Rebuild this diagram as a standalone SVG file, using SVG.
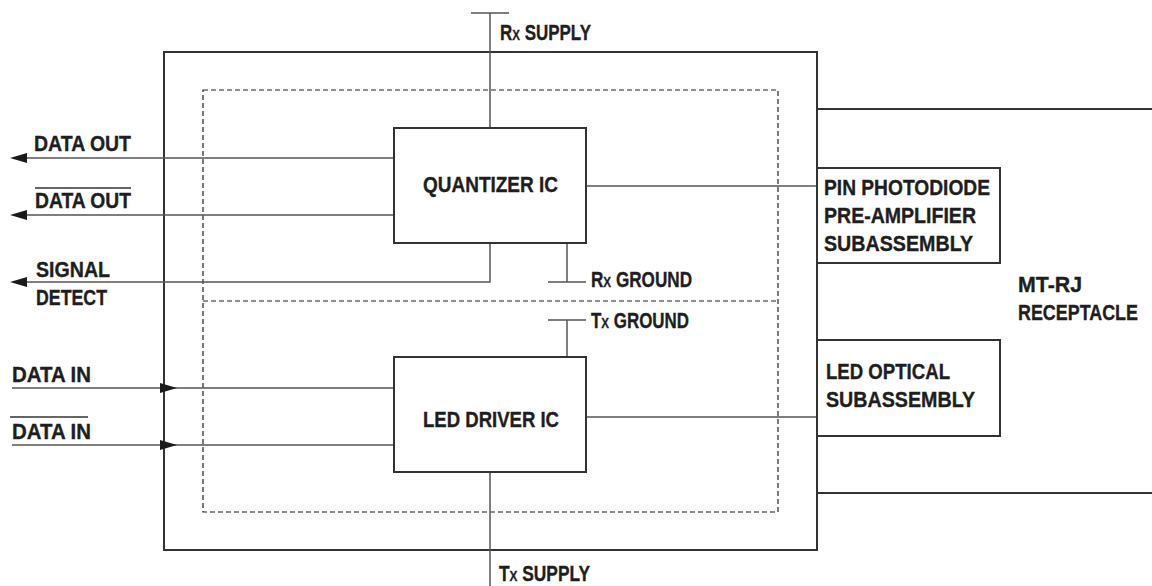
<svg xmlns="http://www.w3.org/2000/svg" width="1152" height="586" viewBox="0 0 1152 586">
<style>
text{font-family:"Liberation Sans",Arial,sans-serif;font-weight:bold;font-size:22px;fill:#1e1e1e;stroke:#1e1e1e;stroke-width:0.35}
.frame{fill:none;stroke:#333;stroke-width:2}
.box{fill:#fff;stroke:#333;stroke-width:2}
.dash{fill:none;stroke:#222;stroke-width:1.2;stroke-dasharray:5,3}
.wire{fill:none;stroke:#555;stroke-width:1.5}
.bar{stroke:#333;stroke-width:1.5}
.ah{fill:#1a1a1a}
</style>
<defs>
<path id="arL" class="ah" d="M0,0 L17,-5 L17,5 Z"/>
<path id="arR" class="ah" d="M0,0 L-17,-5 L-17,5 Z"/>
</defs>
<g id="module">
<rect class="frame" x="164" y="52" width="653" height="498"/>
<rect class="dash" x="203" y="90" width="575" height="422"/>
<line class="dash" x1="203" y1="301" x2="778" y2="301"/>
</g>
<g id="receptacle">
<line class="frame" x1="817" y1="109" x2="1152" y2="109"/>
<line class="frame" x1="817" y1="493" x2="1152" y2="493"/>
<text x="1018" y="292" textLength="64" lengthAdjust="spacingAndGlyphs">MT-RJ</text>
<text x="1018" y="320" textLength="120" lengthAdjust="spacingAndGlyphs">RECEPTACLE</text>
</g>
<g id="connectors">
<path class="wire" d="M490,13 V128 M471,13 H509"/>
<path class="wire" d="M394,158 H20"/>
<path class="wire" d="M394,215 H20"/>
<path class="wire" d="M490,243 V282 H20"/>
<path class="wire" d="M567,243 V282 M548,282 H586"/>
<path class="wire" d="M567,357 V320 M548,320 H586"/>
<path class="wire" d="M12,388 H394"/>
<path class="wire" d="M12,445 H394"/>
<path class="wire" d="M490,472 V586"/>
<path class="wire" d="M586,186 H817"/>
<path class="wire" d="M586,417 H817"/>
<use href="#arL" x="10" y="158"/>
<use href="#arL" x="10" y="215"/>
<use href="#arL" x="10" y="282"/>
<use href="#arR" x="177" y="388"/>
<use href="#arR" x="177" y="445"/>
</g>
<g id="quantizer">
<rect class="box" x="394" y="128" width="192" height="115"/>
<text x="423" y="192" textLength="135" lengthAdjust="spacingAndGlyphs">QUANTIZER IC</text>
</g>
<g id="led-driver">
<rect class="box" x="394" y="357" width="192" height="115"/>
<text x="423" y="427" textLength="136" lengthAdjust="spacingAndGlyphs">LED DRIVER IC</text>
</g>
<g id="pin-photodiode">
<rect class="box" x="817" y="168" width="183" height="95"/>
<text x="824" y="195" textLength="166" lengthAdjust="spacingAndGlyphs">PIN PHOTODIODE</text>
<text x="824" y="223" textLength="152" lengthAdjust="spacingAndGlyphs">PRE-AMPLIFIER</text>
<text x="824" y="251" textLength="149" lengthAdjust="spacingAndGlyphs">SUBASSEMBLY</text>
</g>
<g id="led-optical">
<rect class="box" x="817" y="340" width="183" height="96"/>
<text x="826" y="379" textLength="124" lengthAdjust="spacingAndGlyphs">LED OPTICAL</text>
<text x="826" y="407" textLength="149" lengthAdjust="spacingAndGlyphs">SUBASSEMBLY</text>
</g>
<g id="labels">
<text x="500" y="40" textLength="91" lengthAdjust="spacingAndGlyphs">R<tspan font-size="15">X</tspan> SUPPLY</text>
<text x="34" y="151" textLength="97" lengthAdjust="spacingAndGlyphs">DATA OUT</text>
<text x="35" y="208" textLength="96" lengthAdjust="spacingAndGlyphs">DATA OUT</text>
<line class="bar" x1="35" y1="188" x2="131" y2="188"/>
<text x="36" y="277" textLength="74" lengthAdjust="spacingAndGlyphs">SIGNAL</text>
<text x="36" y="305" textLength="71" lengthAdjust="spacingAndGlyphs">DETECT</text>
<text x="591" y="287" textLength="101" lengthAdjust="spacingAndGlyphs">R<tspan font-size="15">X</tspan> GROUND</text>
<text x="591" y="328" textLength="98" lengthAdjust="spacingAndGlyphs">T<tspan font-size="15">X</tspan> GROUND</text>
<text x="12" y="382" textLength="79" lengthAdjust="spacingAndGlyphs">DATA IN</text>
<text x="12" y="439" textLength="79" lengthAdjust="spacingAndGlyphs">DATA IN</text>
<line class="bar" x1="10" y1="417" x2="88" y2="417"/>
<text x="499" y="581" textLength="91" lengthAdjust="spacingAndGlyphs">T<tspan font-size="15">X</tspan> SUPPLY</text>
</g>
</svg>
